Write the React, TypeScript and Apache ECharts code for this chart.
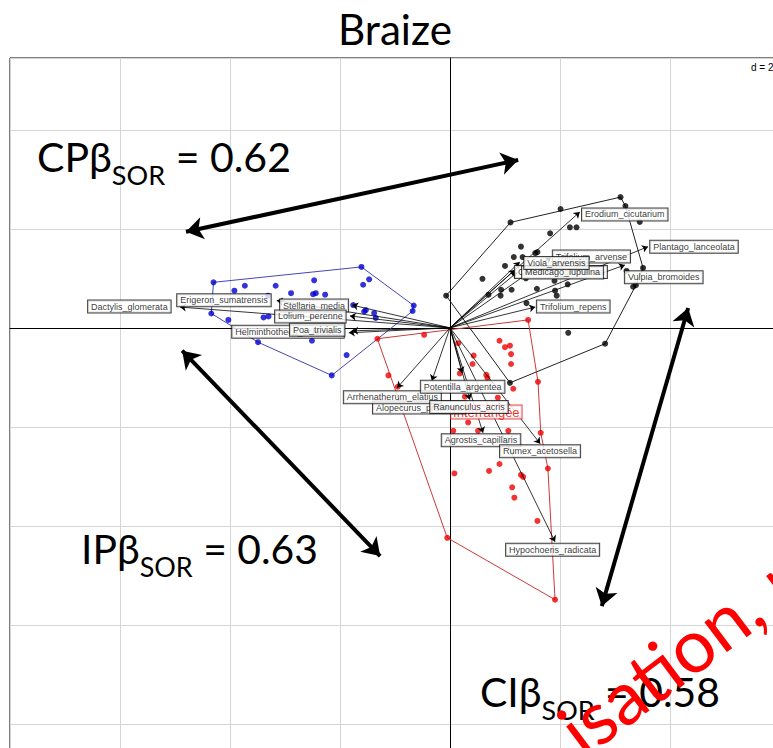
import React, { useEffect, useRef } from "react";
import * as echarts from "echarts";

// ---- data (axis units, grid spacing d = 2) ----
const bluePts: number[][] = [
  [-3.92, 0.75], [-3.73, 0.85], [-3.17, 0.85], [-2.47, 0.96], [-2.89, 0.70], [-2.49, 0.68],
  [-2.44, 0.70], [-2.27, 0.67], [-1.58, 0.87], [-1.47, 0.98], [-3.31, 0.65], [-3.39, 0.21],
  [-3.30, 0.23], [-4.03, 0.16], [-2.51, -0.26], [-1.88, -0.55], [-1.56, 0.33], [-1.38, 0.30],
  [-1.35, 0.20], [-1.76, 0.46], [-1.53, 0.36],
];
const blueHull: number[][] = [
  [-4.30, 0.92], [-1.61, 1.23], [-0.66, 0.45], [-0.68, 0.34], [-2.15, -0.96], [-3.49, -0.29], [-4.34, 0.29],
];
const blackPts: number[][] = [
  [2.01, 2.40], [2.18, 2.03], [2.30, 2.03], [1.82, 1.91], [1.29, 1.64], [1.16, 1.43], [1.00, 1.25],
  [0.59, 0.99], [0.70, 0.67], [0.93, 0.77], [0.92, 0.65], [1.12, 0.77], [1.58, 0.79], [1.91, 0.75],
  [1.94, 0.65], [1.39, 0.50], [2.14, 0.88], [2.15, -0.10], [1.55, 1.51], [1.59, 1.53], [1.32, 1.43],
  [1.90, 0.95], [3.21, 1.15], [3.33, 0.83], [1.38, 1.00], [3.45, 2.14],
];
const blackHull: number[][] = [
  [-0.07, 0.65], [1.10, 2.13], [3.10, 2.64], [3.19, 2.46], [3.51, 1.21], [3.38, 0.86], [2.82, -0.32], [1.09, -1.11],
];
const redPts: number[][] = [
  [-0.47, -0.14], [0.15, -0.31], [0.90, -0.26], [1.00, -0.39], [1.09, -0.36], [1.11, -0.53], [0.43, -0.56],
  [1.11, -0.73], [0.41, -0.73], [0.66, -0.95], [0.68, -1.01], [0.18, -0.92], [1.15, -1.23], [-1.12, -0.96],
  [-0.95, -1.19], [0.27, -1.39], [0.87, -1.41], [0.33, -1.91], [0.06, -2.08], [0.51, -2.08], [1.06, -2.08],
  [0.08, -2.94], [0.71, -2.89], [0.90, -2.75], [1.29, -2.97], [1.33, -3.01], [1.13, -3.22], [1.17, -3.43],
  [1.59, -3.90],
];
const redHull: number[][] = [
  [-1.32, -0.22], [1.42, 0.16], [1.60, -1.09], [1.65, -2.12], [1.78, -2.84], [1.91, -5.49], [-0.05, -4.24],
];

const speciesNames = [
  "Dactylis_glomerata", "Erigeron_sumatrensis", "Stellaria_media", "Lolium_perenne",
  "Helminthotheca_echioides", "Poa_trivialis", "Alopecurus_pratensis", "Arrhenatherum_elatius",
  "Potentilla_argentea", "Ranunculus_acris", "Agrostis_capillaris", "Rumex_acetosella",
  "Hypochoeris_radicata", "Erodium_cicutarium", "Plantago_lanceolata", "Trifolium_arvense",
  "Cerastium_glomerata", "Medicago_lupulina", "Viola_arvensis", "Vulpia_bromoides", "Trifolium_repens",
];
const arrowTips: number[][] = [
  [-4.91, 0.42], [-3.15, 0.55], [-1.78, 0.46], [-1.82, 0.24],
  [-1.84, -0.10], [-1.78, -0.06], [0.22, -0.91], [-0.96, -1.21],
  [-0.33, -1.07], [0.36, -1.45], [0.60, -2.12], [1.64, -2.34],
  [1.91, -4.32], [2.36, 2.34], [3.60, 1.64], [1.84, 1.43],
  [1.18, 1.17], [1.22, 1.12], [1.27, 1.33], [3.18, 1.27], [1.55, 0.42],
];
const labelAnchors: number[][] = [
  [-6.58, 0.43], [-4.96, 0.56], [-3.09, 0.45], [-3.18, 0.23],
  [-3.96, -0.08], [-2.91, -0.04], [-1.40, -1.61], [-1.93, -1.40],
  [-0.53, -1.19], [-0.36, -1.60], [-0.15, -2.27], [0.91, -2.49],
  [1.02, -4.48], [2.40, 2.29], [3.64, 1.64], [1.87, 1.44],
  [1.18, 1.13], [1.31, 1.12], [1.35, 1.31], [3.18, 1.02], [1.58, 0.43],
];
const groupLabel = "Interrangée";
const groupLabelPos: number[] = [0.02, -1.70];

const bigArrows: number[][][] = [
  [[-4.80, 1.94], [1.24, 3.39]],
  [[-4.87, -0.46], [-1.27, -4.61]],
  [[2.76, -5.62], [4.33, 0.40]],
];
const betaNames = ["CP", "IP", "CI"];
const betaValues = ["0.62", "0.63", "0.58"];
const titleText = "Braize";
const scaleText = "d = 2";
const watermarkText = "isation, r";

const BIG_FONT = "Lato";

export default function App() {
  const ref = useRef<HTMLDivElement>(null);
  useEffect(() => {
    if (!ref.current) return;
    const chart = echarts.init(ref.current, null, { renderer: "svg" });
    const cv = document.createElement("canvas").getContext("2d")!;
    const meas = (t: string, size: number, fam: string) => {
      cv.font = `${size}px ${fam}`;
      return cv.measureText(t).width;
    };
    const K = 0.35; // middle-to-baseline ratio
    const graphics: any[] = [];
    const layout = [
      { left: 37, right: 291, base: 171 },
      { left: 81, right: 318, base: 563 },
      { left: 480, right: 720, base: 706 },
    ];
    betaNames.forEach((nm, i) => {
      const main = nm + "β";
      const sub = "SOR";
      const tail = " = " + betaValues[i];
      const L = layout[i];
      const w = meas(main, 100, BIG_FONT) + meas(sub, 66, BIG_FONT) + meas(tail, 100, BIG_FONT);
      const F = ((L.right - L.left) / w) * 100;
      const fs = F * 0.66;
      const w1 = meas(main, F, BIG_FONT);
      const w2 = meas(sub, fs, BIG_FONT);
      const mk = (t: string, x: number, y: number, size: number) => ({
        type: "text", x, y, z: 100,
        style: { text: t, fontSize: size, fontFamily: BIG_FONT, fill: "#000", align: "left", verticalAlign: "middle" },
      });
      graphics.push(mk(main, L.left, L.base - K * F, F));
      graphics.push(mk(sub, L.left + w1, L.base + 0.32 * F - K * fs, fs));
      graphics.push(mk(tail, L.left + w1 + w2, L.base - K * F, F));
    });
    const tF = (114 / meas(titleText, 100, BIG_FONT)) * 100;
    graphics.push({
      type: "text", x: 395, y: 43 - K * tF, z: 100,
      style: { text: titleText, fontSize: tF, fontFamily: BIG_FONT, fill: "#000", align: "center", verticalAlign: "middle" },
    });
    graphics.push({
      type: "text", x: 751, y: 67, z: 100,
      style: { text: scaleText, fontSize: 10, fontFamily: "Liberation Sans", fill: "#000", align: "left", verticalAlign: "middle" },
    });
    graphics.push({
      type: "text", x: 567, y: 737, rotation: (37 * Math.PI) / 180, z: 110,
      style: { text: watermarkText, fontSize: 74, fontFamily: BIG_FONT, fill: "#ff0000", align: "left", verticalAlign: "middle" },
    });

    const closed = (h: number[][]) => [...h, h[0]];
    const hull = (h: number[][], c: string) => ({
      type: "line", data: closed(h), symbol: "none", silent: true, z: 2,
      lineStyle: { color: c, width: 1 },
    });
    const pts = (p: number[][], c: string) => ({
      type: "scatter", data: p, symbolSize: 6, silent: true, z: 3, itemStyle: { color: c },
    });
    const boxLabel = {
      show: true, position: "right", distance: 0, formatter: "{b}",
      backgroundColor: "#fff", borderColor: "#111", borderWidth: 1,
      padding: [2, 3, 1, 3], fontSize: 9, fontFamily: "Liberation Sans", color: "#000",
    };

    chart.setOption({
      animation: false,
      backgroundColor: "#fff",
      grid: {
        left: 10, top: 58, width: 880, height: 765, show: true,
        borderColor: "#000", borderWidth: 1, backgroundColor: "transparent",
      },
      xAxis: {
        type: "value", min: -8, max: 8, interval: 2,
        axisLine: { show: true, onZero: true, lineStyle: { color: "#000", width: 1 } },
        axisTick: { show: false }, axisLabel: { show: false },
        splitLine: { show: true, lineStyle: { color: "#d4d4d4", width: 1 } },
      },
      yAxis: {
        type: "value", min: -10, max: 5.45, interval: 2,
        axisLine: { show: true, onZero: true, lineStyle: { color: "#000", width: 1 } },
        axisTick: { show: false }, axisLabel: { show: false },
        splitLine: { show: true, lineStyle: { color: "#d4d4d4", width: 1 } },
      },
      graphic: graphics,
      series: [
        hull(blueHull, "#4646b8"),
        hull(blackHull, "#222"),
        hull(redHull, "#cc3a3a"),
        pts([...bluePts, ...blueHull], "#0000d0"),
        pts([...blackPts, ...blackHull], "#000"),
        pts([...redPts, ...redHull], "#ee0000"),
        {
          type: "lines", coordinateSystem: "cartesian2d", z: 4, silent: true,
          symbol: ["none", "arrow"], symbolSize: 6,
          lineStyle: { color: "#000", width: 0.8, opacity: 1 },
          data: arrowTips.map((t) => ({ coords: [[0, 0], t] })),
        },
        {
          type: "scatter", symbolSize: 0, z: 5, silent: true,
          data: [{ value: groupLabelPos, name: groupLabel }],
          label: {
            show: true, position: "right", distance: 0, formatter: "{b}",
            backgroundColor: "#fff", borderColor: "#dd2222", borderWidth: 1,
            padding: [0, 2, 0, 2], fontSize: 13, fontFamily: "Liberation Sans", color: "#ee0000",
          },
        },
        {
          type: "scatter", symbolSize: 0, z: 6, silent: true,
          data: speciesNames.map((n, i) => ({ value: labelAnchors[i], name: n })),
          label: boxLabel,
        },
        {
          type: "lines", coordinateSystem: "cartesian2d", z: 10, silent: true,
          symbol: ["arrow", "arrow"], symbolSize: 17,
          lineStyle: { color: "#000", width: 4, opacity: 1 },
          data: bigArrows.map((a) => ({ coords: a })),
        },
      ],
    });
    return () => chart.dispose();
  }, []);
  return (
    <div style={{ position: "fixed", left: 0, top: 0, width: 773, height: 748, overflow: "hidden", background: "#fff" }}>
      <div ref={ref} style={{ position: "absolute", left: 0, top: 0, width: 900, height: 830 }} />
    </div>
  );
}
